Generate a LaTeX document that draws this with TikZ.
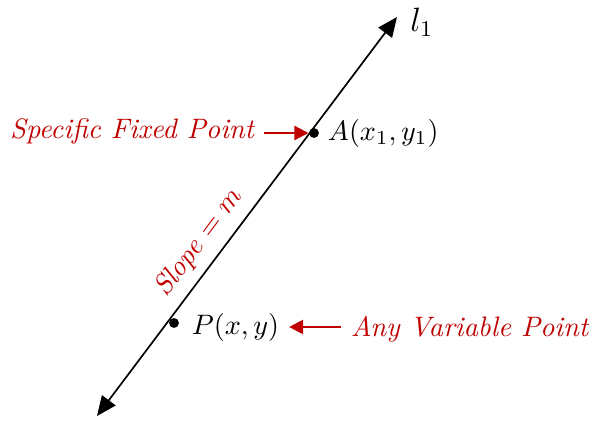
\documentclass[tikz,border=0pt]{standalone}
\usetikzlibrary{arrows.meta}
\definecolor{note-red}{HTML}{C00000}

\begin{document}
\begin{tikzpicture}[
    x=0.0125cm, y=-0.0125cm,
    dot/.style={circle, fill, inner sep=0pt, minimum size=3.5pt},
    linearrow/.style={{Triangle[length=7pt,width=6pt]}-{Triangle[length=7pt,width=6pt]}, semithick},
    note/.style={text=note-red, font=\itshape},
    pointer/.style={-{Triangle[length=5pt,width=5pt]}, thick, note-red},
  ]
    \useasboundingbox (0,0) rectangle (597,425);

    % The line l_1
    \coordinate (lo) at (97,416);
    \coordinate (hi) at (397,17);
    \draw[linearrow] (lo) -- (hi)
          node[note, pos=0.40, sloped, above] {$\mathit{Slope}=m$};
    \node[font=\large] (l1) at (422,22) {$l_1$};

    % Fixed point
    \node[dot] (A) at (314,133) {};
    \node[anchor=west] (Alabel) at (318,133) {$A(x_1,y_1)$};
    \node[note, anchor=east] (fixed) at (264,131) {Specific Fixed Point};

    % Variable point
    \node[dot] (P) at (174,323) {};
    \node[anchor=west] (Plabel) at (182,327) {$P(x,y)$};
    \node[note, anchor=west] (variable) at (341,329) {Any Variable Point};

    % Arrows
    \draw[pointer] (fixed.east |- A) -- (A);
    \draw[pointer] (variable.west |- Plabel) -- (Plabel);
  \end{tikzpicture}
\end{document}
